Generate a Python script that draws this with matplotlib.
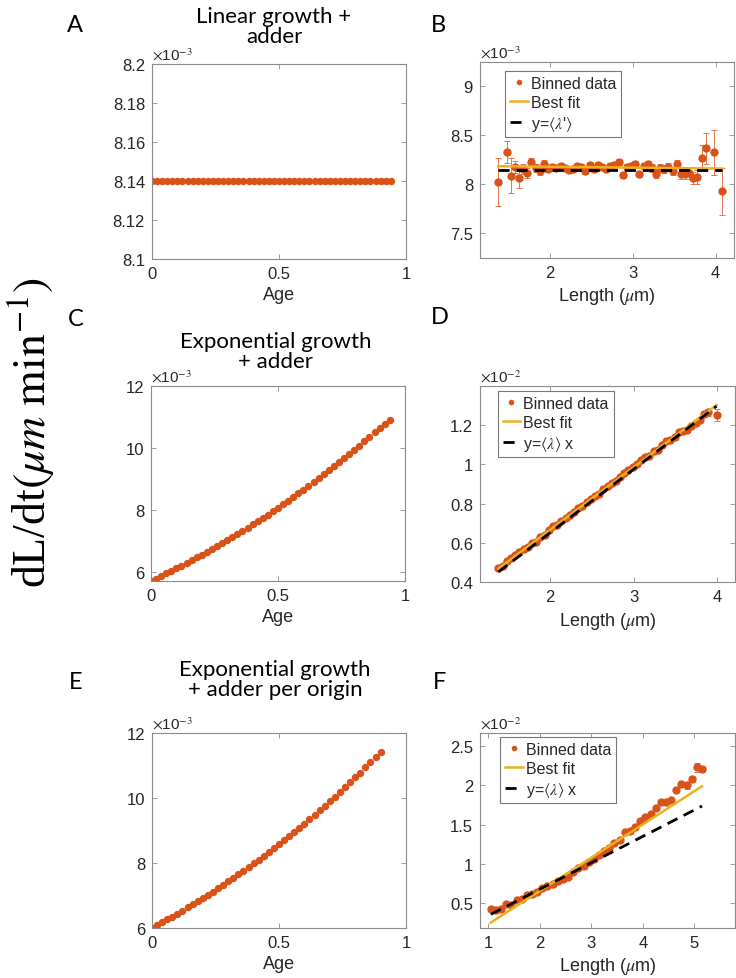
import numpy as np
import matplotlib
matplotlib.use("Agg")
import matplotlib.pyplot as plt
from matplotlib.lines import Line2D

plt.rcParams['font.family'] = ['Liberation Sans', 'DejaVu Sans']
plt.rcParams['mathtext.fontset'] = 'stix'

ORANGE = '#D95319'
YELLOW = '#EDB120'
SPINE = '#8a8a8a'
TXT = '#262626'

# ---------------- data ----------------
# Panel A (x 1e-3)
age_A = [0.00, 0.02, 0.04, 0.06, 0.08, 0.10, 0.12, 0.14, 0.16, 0.18, 0.20, 0.22,
         0.24, 0.26, 0.28, 0.30, 0.32, 0.34, 0.36, 0.38, 0.40, 0.42, 0.44, 0.46,
         0.48, 0.50, 0.52, 0.54, 0.56, 0.58, 0.60, 0.62, 0.64, 0.66, 0.68, 0.70,
         0.72, 0.74, 0.76, 0.78, 0.80, 0.82, 0.84, 0.86, 0.88, 0.90, 0.92, 0.94]
rate_A = [8.14, 8.14, 8.14, 8.14, 8.14, 8.14, 8.14, 8.14, 8.14, 8.14, 8.14, 8.14,
          8.14, 8.14, 8.14, 8.14, 8.14, 8.14, 8.14, 8.14, 8.14, 8.14, 8.14, 8.14,
          8.14, 8.14, 8.14, 8.14, 8.14, 8.14, 8.14, 8.14, 8.14, 8.14, 8.14, 8.14,
          8.14, 8.14, 8.14, 8.14, 8.14, 8.14, 8.14, 8.14, 8.14, 8.14, 8.14, 8.14]

# Panel C (x 1e-3)
age_C = age_A
rate_C = [5.710, 5.790, 5.871, 5.952, 6.036, 6.120, 6.205, 6.292, 6.380, 6.469,
          6.559, 6.651, 6.744, 6.838, 6.933, 7.030, 7.128, 7.228, 7.328, 7.431,
          7.534, 7.640, 7.746, 7.854, 7.964, 8.075, 8.188, 8.302, 8.418, 8.536,
          8.655, 8.776, 8.898, 9.022, 9.148, 9.276, 9.405, 9.537, 9.670, 9.805,
          9.942, 10.080, 10.221, 10.364, 10.509, 10.655, 10.780, 10.890]

# Panel E (x 1e-3)
age_E = [0.00, 0.02, 0.04, 0.06, 0.08, 0.10, 0.12, 0.14, 0.16, 0.18, 0.20, 0.22,
         0.24, 0.26, 0.28, 0.30, 0.32, 0.34, 0.36, 0.38, 0.40, 0.42, 0.44, 0.46,
         0.48, 0.50, 0.52, 0.54, 0.56, 0.58, 0.60, 0.62, 0.64, 0.66, 0.68, 0.70,
         0.72, 0.74, 0.76, 0.78, 0.80, 0.82, 0.84, 0.86, 0.88, 0.90]
rate_E = [6.000, 6.086, 6.174, 6.263, 6.353, 6.445, 6.538, 6.632, 6.727, 6.824,
          6.922, 7.022, 7.123, 7.226, 7.330, 7.435, 7.542, 7.651, 7.761, 7.873,
          7.986, 8.102, 8.218, 8.337, 8.457, 8.578, 8.702, 8.827, 8.954, 9.083,
          9.214, 9.347, 9.481, 9.618, 9.757, 9.897, 10.040, 10.184, 10.331, 10.480,
          10.631, 10.784, 10.939, 11.097, 11.256, 11.418]

# Panel B (x 1e-3)
len_B = [1.38, 1.48, 1.53, 1.58, 1.63, 1.68, 1.73, 1.78, 1.83, 1.88, 1.93, 1.98,
         2.03, 2.08, 2.13, 2.18, 2.23, 2.28, 2.33, 2.38, 2.43, 2.48, 2.53, 2.58,
         2.63, 2.68, 2.73, 2.78, 2.83, 2.88, 2.93, 2.98, 3.03, 3.08, 3.13, 3.18,
         3.23, 3.28, 3.33, 3.38, 3.43, 3.48, 3.53, 3.58, 3.63, 3.68, 3.73, 3.78,
         3.83, 3.88, 3.98, 4.08]
rate_B = [8.02, 8.32, 8.08, 8.17, 8.06, 8.15, 8.11, 8.22, 8.16, 8.13, 8.20, 8.15,
          8.17, 8.16, 8.18, 8.16, 8.14, 8.15, 8.18, 8.17, 8.13, 8.19, 8.15, 8.19,
          8.17, 8.15, 8.18, 8.19, 8.22, 8.09, 8.17, 8.18, 8.20, 8.10, 8.18, 8.20,
          8.16, 8.10, 8.16, 8.15, 8.17, 8.13, 8.20, 8.10, 8.10, 8.11, 8.06, 8.07,
          8.26, 8.36, 8.32, 7.92]
err_B = [0.245, 0.11, 0.18, 0.06, 0.11, 0.05, 0.05, 0.04, 0.04, 0.04, 0.04, 0.03,
         0.03, 0.03, 0.03, 0.03, 0.03, 0.03, 0.03, 0.03, 0.03, 0.03, 0.03, 0.03,
         0.03, 0.03, 0.03, 0.03, 0.03, 0.03, 0.03, 0.03, 0.03, 0.03, 0.03, 0.03,
         0.04, 0.04, 0.04, 0.04, 0.04, 0.04, 0.04, 0.05, 0.05, 0.06, 0.06, 0.07,
         0.13, 0.16, 0.23, 0.24]
fit_B = (-0.0089, 8.189)      # slope, intercept
mean_B = 8.143                # <lambda'>

# Panel D (x 1e-2)
len_D = [1.39, 1.44, 1.49, 1.54, 1.59, 1.64, 1.69, 1.74, 1.79, 1.84, 1.89, 1.94,
         1.99, 2.04, 2.09, 2.14, 2.19, 2.24, 2.29, 2.34, 2.39, 2.44, 2.49, 2.54,
         2.59, 2.64, 2.69, 2.74, 2.79, 2.84, 2.89, 2.94, 2.99, 3.04, 3.09, 3.14,
         3.19, 3.24, 3.29, 3.34, 3.39, 3.44, 3.49, 3.54, 3.59, 3.64, 3.69, 3.74,
         3.79, 3.84, 3.89, 3.99]
rate_D = [0.469, 0.482, 0.507, 0.522, 0.538, 0.551, 0.566, 0.578, 0.601, 0.604,
          0.632, 0.641, 0.664, 0.684, 0.691, 0.711, 0.728, 0.744, 0.755, 0.776,
          0.787, 0.808, 0.823, 0.840, 0.851, 0.874, 0.889, 0.906, 0.913, 0.938,
          0.955, 0.969, 0.985, 1.003, 1.020, 1.036, 1.044, 1.066, 1.072, 1.101,
          1.118, 1.122, 1.138, 1.163, 1.168, 1.178, 1.196, 1.212, 1.227, 1.258,
          1.265, 1.253]
err_D = [0.004, 0.004, 0.004, 0.004, 0.004, 0.004, 0.004, 0.004, 0.004, 0.004,
         0.004, 0.004, 0.004, 0.004, 0.004, 0.004, 0.004, 0.004, 0.004, 0.004,
         0.004, 0.004, 0.004, 0.004, 0.004, 0.004, 0.004, 0.004, 0.004, 0.004,
         0.004, 0.004, 0.004, 0.004, 0.004, 0.005, 0.005, 0.005, 0.005, 0.005,
         0.006, 0.006, 0.006, 0.007, 0.007, 0.008, 0.009, 0.010, 0.012, 0.015,
         0.020, 0.030]
fit_D = (0.321, 0.022)
mean_D = 0.325                # <lambda>

# Panel F (x 1e-2)
len_F = [1.05, 1.15, 1.25, 1.35, 1.45, 1.55, 1.65, 1.75, 1.85, 1.95, 2.05, 2.15,
         2.25, 2.35, 2.45, 2.55, 2.65, 2.75, 2.85, 2.95, 3.05, 3.15, 3.25, 3.35,
         3.45, 3.55, 3.65, 3.75, 3.85, 3.95, 4.05, 4.15, 4.25, 4.35, 4.45, 4.55,
         4.65, 4.75, 4.85, 4.95, 5.05, 5.15]
rate_F = [0.42, 0.41, 0.42, 0.49, 0.47, 0.54, 0.555, 0.60, 0.61, 0.64, 0.69, 0.71,
          0.745, 0.775, 0.81, 0.83, 0.895, 0.94, 0.97, 1.02, 1.065, 1.115, 1.16, 1.205,
          1.27, 1.30, 1.40, 1.415, 1.47, 1.55, 1.595, 1.63, 1.71, 1.79, 1.79, 1.82,
          1.94, 2.02, 2.00, 2.08, 2.23, 2.21]
err_F = [0.015, 0.012, 0.012, 0.012, 0.010, 0.010, 0.010, 0.010, 0.010, 0.010,
         0.010, 0.010, 0.010, 0.010, 0.010, 0.010, 0.010, 0.010, 0.010, 0.010,
         0.010, 0.010, 0.010, 0.012, 0.012, 0.012, 0.012, 0.012, 0.014, 0.014,
         0.015, 0.015, 0.016, 0.018, 0.018, 0.020, 0.022, 0.025, 0.040, 0.035,
         0.060, 0.035]
fit_F = (0.4245, -0.196)
mean_F = 0.3374

# ---------------- figure ----------------
W, H = 736, 979
fig = plt.figure(figsize=(W / 100, H / 100), dpi=100)


def rect(l, r, t, b):
    return [l / W, 1 - b / H, (r - l) / W, (b - t) / H]


def style(ax, scale):
    for s in ax.spines.values():
        s.set_color(SPINE)
        s.set_linewidth(0.8)
    ax.tick_params(direction='in', length=3.5, width=0.6, color=SPINE,
                   labelsize=12, labelcolor=TXT, top=True, right=True, pad=5)
    ax.text(0.0, 1.005, r'$\times$10$^{' + scale + '}$', transform=ax.transAxes,
            ha='left', va='bottom', fontsize=11, color=TXT)


def fmt(v):
    return ('%g' % round(v, 6))


def age_panel(r, x, y, ylim, yticks):
    ax = fig.add_axes(r)
    ax.plot(x, y, 'o', color=ORANGE, ms=4.3, mec=ORANGE)
    ax.set_xlim(0, 1)
    ax.set_ylim(*ylim)
    ax.set_xticks([0, 0.5, 1])
    ax.set_xticklabels(['0', '0.5', '1'])
    ax.set_yticks(yticks)
    ax.set_yticklabels([fmt(v) for v in yticks])
    ax.set_xlabel('Age', fontsize=13, color=TXT, labelpad=4)
    style(ax, '-3')
    return ax


def len_panel(r, x, y, e, fit, mean, xlim, ylim, xticks, yticks, scale, lab,
              anchor, through_origin):
    ax = fig.add_axes(r)
    x = np.asarray(x)
    ax.errorbar(x, y, yerr=e, fmt='o', color=ORANGE, ms=5, mec=ORANGE,
                ecolor='#e07848', elinewidth=0.7, capsize=2, capthick=0.7, zorder=2)
    xf = np.array([x.min(), x.max()])
    ax.plot(xf, fit[0] * xf + fit[1], color=YELLOW, lw=1.8, zorder=3)
    if through_origin:
        ax.plot(xf, mean * xf, color='black', lw=2, ls=(0, (4, 2.5)), zorder=4)
    else:
        ax.plot(xf, [mean, mean], color='black', lw=2, ls=(0, (4, 2.5)), zorder=4)
    ax.set_xlim(*xlim)
    ax.set_ylim(*ylim)
    ax.set_xticks(xticks)
    ax.set_xticklabels([fmt(v) for v in xticks])
    ax.set_yticks(yticks)
    ax.set_yticklabels([fmt(v) for v in yticks])
    ax.set_xlabel(r'Length ($\mu$m)', fontsize=13, color=TXT, labelpad=4)
    style(ax, scale)
    handles = [Line2D([], [], marker='o', ms=3, ls='none', color=ORANGE),
               Line2D([], [], color=YELLOW, lw=1.8),
               Line2D([], [], color='black', lw=2, ls=(0, (4, 2.5)))]
    leg = ax.legend(handles, ['Binned data', 'Best fit', lab], loc='upper left',
                    bbox_to_anchor=anchor, borderaxespad=0, fontsize=11.5,
                    handlelength=1.1, handletextpad=0.2, labelspacing=0.25,
                    borderpad=0.3, frameon=True, fancybox=False)
    leg.get_frame().set_edgecolor('#555555')
    leg.get_frame().set_linewidth(0.8)
    for t in leg.get_texts():
        t.set_color(TXT)
    return ax


age_panel(rect(152, 406, 65, 260), age_A, rate_A, (8.1, 8.2),
          [8.1, 8.12, 8.14, 8.16, 8.18, 8.2])
age_panel(rect(151, 405, 387, 582), age_C, rate_C, (5.71, 12), [6, 8, 10, 12])
age_panel(rect(152, 406, 734, 929), age_E, rate_E, (6, 12), [6, 8, 10, 12])

len_panel(rect(480, 734, 63, 259), len_B, rate_B, err_B, fit_B, mean_B,
          (1.16, 4.22), (7.24, 9.24), [2, 3, 4], [7.5, 8, 8.5, 9], '-3',
          "y=$\\langle\\lambda$'$\\rangle$", (0.1, 0.955), False)
len_panel(rect(480, 735, 387, 583), len_D, rate_D, err_D, fit_D, mean_D,
          (1.17, 4.21), (0.4, 1.4), [2, 3, 4], [0.4, 0.6, 0.8, 1, 1.2], '-2',
          r"y=$\langle\lambda\rangle$ x", (0.07, 0.975), True)
len_panel(rect(480, 735, 734, 929), len_F, rate_F, err_F, fit_F, mean_F,
          (0.84, 5.79), (0.18, 2.67), [1, 2, 3, 4, 5], [0.5, 1, 1.5, 2, 2.5], '-2',
          r"y=$\langle\lambda\rangle$ x", (0.08, 0.98), True)

# titles
TF = ['Lato', 'DejaVu Sans']
fig.text(274 / W, 1 - 27 / H, 'Linear growth +\nadder', ha='center', va='center',
         fontsize=16, family=TF, linespacing=1.05, color='black')
fig.text(276 / W, 1 - 352 / H, 'Exponential growth\n+ adder', ha='center',
         va='center', fontsize=16, family=TF, linespacing=1.05, color='black')
fig.text(275 / W, 1 - 680 / H, 'Exponential growth\n+ adder per origin',
         ha='center', va='center', fontsize=16, family=TF, linespacing=1.05,
         color='black')

# panel letters
for letter, (px, py) in {'A': (75, 25), 'B': (438, 25), 'C': (76, 320),
                         'D': (440, 318), 'E': (76, 683), 'F': (440, 683)}.items():
    fig.text(px / W, 1 - py / H, letter, ha='center', va='center', fontsize=17,
             family=TF, color='black')

# big y label
fig.text(31 / W, 1 - 433 / H, r'dL/dt$(\mu m\ \mathrm{min}^{-1})$', rotation=90,
         ha='center', va='center', fontsize=33, family=['Liberation Serif', 'DejaVu Serif'],
         color='black')

fig.savefig('out.png', dpi=100)
